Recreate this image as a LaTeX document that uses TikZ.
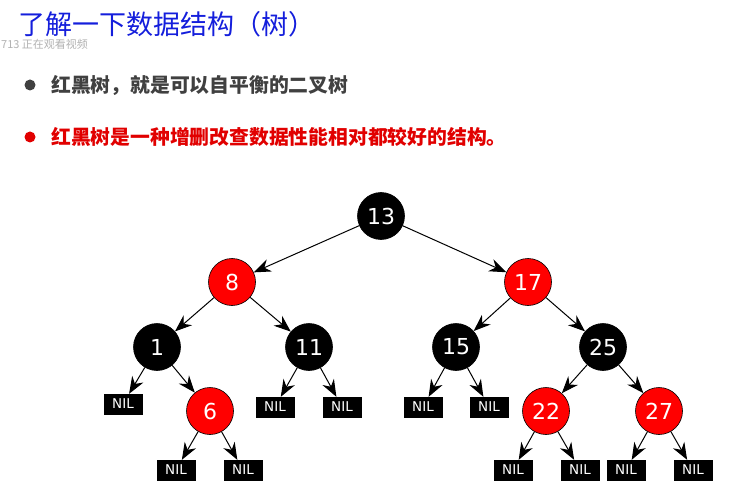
\documentclass[tikz,border=0pt]{standalone}
\usepackage{fontspec}
\setmainfont{DejaVu Sans}
\newfontfamily\cjk{Noto Sans CJK SC}
\usetikzlibrary{arrows.meta}
\definecolor{titleblue}{RGB}{20,30,220}
\definecolor{rbred}{RGB}{255,0,0}
\definecolor{txtred}{RGB}{225,0,0}
\definecolor{txtgray}{RGB}{64,64,64}
\tikzset{
  rbnode/.style={circle, draw=black, line width=0.6pt, minimum size=47pt, inner sep=0pt,
     text=white, font=\fontsize{22}{22}\selectfont},
  blk/.style={rbnode, fill=black},
  redn/.style={rbnode, fill=rbred},
  nil/.style={rectangle, fill=black, draw=black, minimum width=38pt, minimum height=20pt,
     inner sep=0pt, text=white, font=\fontsize{13.5}{13.5}\selectfont},
  edge/.style={draw=black, line width=1pt, -{Stealth[length=17pt,width=13pt]}},
}
\begin{document}
\begin{tikzpicture}[x=1pt,y=-1pt]
\useasboundingbox (0,0) rectangle (730,497);
\fill[white] (0,0) rectangle (730,497);
% title
\node[anchor=base west, text=titleblue, font=\cjk\fontsize{27}{27}\selectfont, inner sep=0pt,
      text height=20pt, text depth=3pt] (title) at (18,35) {了解一下数据结构（树）};
\node[anchor=base west, text=black!30, font=\cjk\fontsize{11}{11}\selectfont, inner sep=0pt,
      text height=9pt, text depth=1.5pt] (wm) at (1,48.5) {713 正在观看视频};
% bullets
\node[circle, fill=txtgray, minimum size=11pt, inner sep=0pt] (b1) at (30,85) {};
\node[anchor=west, text=txtgray, font=\cjk\bfseries\fontsize{19.8}{19.8}\selectfont, inner sep=0pt] (t1) at (51,85) {红黑树，就是可以自平衡的二叉树};
\node[circle, fill=txtred, minimum size=11pt, inner sep=0pt] (b2) at (30,137) {};
\node[anchor=west, text=txtred, font=\cjk\bfseries\fontsize{19.8}{19.8}\selectfont, inner sep=0pt] (t2) at (51,137) {红黑树是一种增删改查数据性能相对都较好的结构。};
% tree nodes
\node[blk]  (n13) at (381,216) {13};
\node[redn] (n8)  at (232,282) {8};
\node[redn] (n17) at (528,282) {17};
\node[blk]  (n1)  at (157,347) {1};
\node[blk]  (n11) at (309,347) {11};
\node[blk]  (n15) at (456,347) {15};
\node[blk]  (n25) at (603,347) {25};
\node[redn] (n6)  at (210,411) {6};
\node[redn] (n22) at (546,411) {22};
\node[redn] (n27) at (659,411) {27};
% NIL leaves
\node[nil] (l1)  at (123,404) {NIL};
\node[nil] (l6a) at (176,470) {NIL};
\node[nil] (l6b) at (243,470) {NIL};
\node[nil] (l11a) at (275,407) {NIL};
\node[nil] (l11b) at (342,407) {NIL};
\node[nil] (l15a) at (423,407) {NIL};
\node[nil] (l15b) at (489,407) {NIL};
\node[nil] (l22a) at (513,470) {NIL};
\node[nil] (l22b) at (580,470) {NIL};
\node[nil] (l27a) at (626,470) {NIL};
\node[nil] (l27b) at (693,470) {NIL};
% edges
\draw[edge] (n13) -- (n8);
\draw[edge] (n13) -- (n17);
\draw[edge] (n8) -- (n1);
\draw[edge] (n8) -- (n11);
\draw[edge] (n17) -- (n15);
\draw[edge] (n17) -- (n25);
\draw[edge] (n1) -- (l1);
\draw[edge] (n1) -- (n6);
\draw[edge] (n6) -- (l6a);
\draw[edge] (n6) -- (l6b);
\draw[edge] (n11) -- (l11a);
\draw[edge] (n11) -- (l11b);
\draw[edge] (n15) -- (l15a);
\draw[edge] (n15) -- (l15b);
\draw[edge] (n25) -- (n22);
\draw[edge] (n25) -- (n27);
\draw[edge] (n22) -- (l22a);
\draw[edge] (n22) -- (l22b);
\draw[edge] (n27) -- (l27a);
\draw[edge] (n27) -- (l27b);
\end{tikzpicture}
\end{document}
